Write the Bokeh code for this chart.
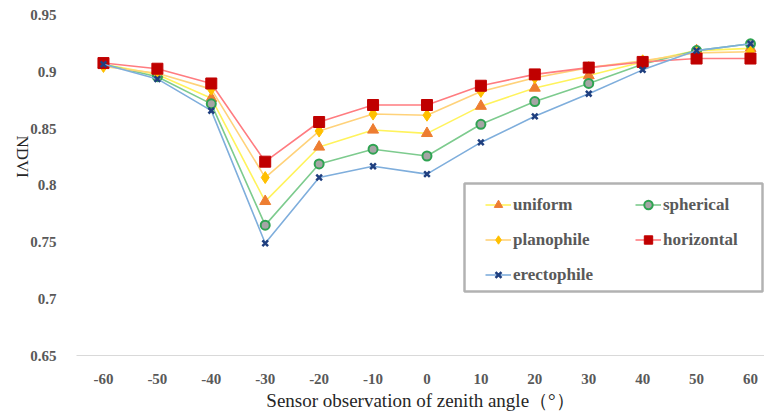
import math
from bokeh.plotting import figure
from bokeh.models import (ColumnDataSource, FixedTicker, NumeralTickFormatter,
                          Legend, LegendItem, Label, Range1d, BoxAnnotation)
from bokeh.embed import file_html
from bokeh.resources import INLINE

angles = [-60, -50, -40, -30, -20, -10, 0, 10, 20, 30, 40, 50, 60]
uniform = [0.907, 0.898, 0.877, 0.786, 0.834, 0.849, 0.846, 0.870, 0.886, 0.897, 0.909, 0.919, 0.921]
spherical = [0.907, 0.896, 0.872, 0.765, 0.819, 0.832, 0.826, 0.854, 0.874, 0.890, 0.907, 0.919, 0.925]
planophile = [0.905, 0.899, 0.885, 0.807, 0.848, 0.863, 0.862, 0.883, 0.895, 0.904, 0.910, 0.917, 0.918]
horizontal = [0.908, 0.903, 0.890, 0.821, 0.856, 0.871, 0.871, 0.888, 0.898, 0.904, 0.909, 0.912, 0.912]
erectophile = [0.907, 0.894, 0.866, 0.749, 0.807, 0.817, 0.810, 0.838, 0.861, 0.881, 0.902, 0.919, 0.925]
y_ticks = [0.65, 0.7, 0.75, 0.8, 0.85, 0.9, 0.95]

series_names = ["uniform", "spherical", "planophile", "horizontal", "erectophile"]
series_vals = [uniform, spherical, planophile, horizontal, erectophile]

styles = {
    "uniform": dict(line="#FFF35C", marker="triangle", fill="#ED7D31", edge="#ED7D31", size=11, lw=1),
    "spherical": dict(line="#7DCB8E", marker="circle", fill="#A5A5A5", edge="#2FA352", size=9, lw=2),
    "planophile": dict(line="#FFD27A", marker="diamond", fill="#FFC000", edge="#FFC000", size=12, lw=1),
    "horizontal": dict(line="#FF7C80", marker="square", fill="#C00000", edge="#C00000", size=11, lw=1),
    "erectophile": dict(line="#7FAEDC", marker="x", fill="#1F3F7F", edge="#1F3F7F", size=8, lw=2.5),
}

SERIF = "Liberation Serif"

p = figure(width=764, height=414, output_backend="svg", toolbar_location=None,
           x_range=Range1d(-65.0, 62.6), y_range=Range1d(0.65, 0.9632),
           min_border_left=76, min_border_right=0, min_border_top=0, min_border_bottom=59)
p.outline_line_color = None
p.xgrid.visible = False
p.ygrid.visible = False

items = {}
for name, vals in zip(series_names, series_vals):
    st = styles[name]
    src = ColumnDataSource(dict(x=angles, y=vals))
    r1 = p.line("x", "y", source=src, line_color=st["line"], line_width=1.6)
    r2 = p.scatter("x", "y", source=src, marker=st["marker"], size=st["size"],
                   fill_color=st["fill"], line_color=st["edge"], line_width=st["lw"])
    items[name] = LegendItem(label=name, renderers=[r1, r2])

# x axis
p.xaxis.ticker = FixedTicker(ticks=angles)
p.xaxis.formatter = NumeralTickFormatter(format="0")
p.xaxis.axis_line_color = "#D9D9D9"
p.xaxis.axis_line_width = 1
p.xaxis.major_tick_line_color = None
p.xaxis.minor_tick_line_color = None
p.xaxis.major_label_text_font = SERIF
p.xaxis.major_label_text_font_style = "bold"
p.xaxis.major_label_text_font_size = "15px"
p.xaxis.major_label_text_color = "#595959"
p.xaxis.major_label_standoff = 12
p.xaxis.axis_label = "Sensor observation of zenith angle（°）"
p.xaxis.axis_label_text_font = SERIF
p.xaxis.axis_label_text_font_style = "normal"
p.xaxis.axis_label_text_font_size = "19px"
p.xaxis.axis_label_text_color = "#262626"
p.xaxis.axis_label_standoff = 3

# y axis
p.yaxis.ticker = FixedTicker(ticks=y_ticks)
p.yaxis.formatter = NumeralTickFormatter(format="0.0[0]")
p.yaxis.axis_line_color = None
p.yaxis.major_tick_line_color = None
p.yaxis.minor_tick_line_color = None
p.yaxis.major_label_text_font = SERIF
p.yaxis.major_label_text_font_style = "bold"
p.yaxis.major_label_text_font_size = "15px"
p.yaxis.major_label_text_color = "#595959"
p.yaxis.major_label_standoff = 14

yax = p.yaxis[0]
if "axis_label_orientation" in yax.properties():
    yax.axis_label = "NDVI"
    yax.axis_label_orientation = -math.pi / 2
    yax.axis_label_text_font = SERIF
    yax.axis_label_text_font_style = "normal"
    yax.axis_label_text_font_size = "17px"
    yax.axis_label_text_color = "#262626"
    yax.axis_label_standoff = 5
else:
    ylab = Label(x=-61, y=170, x_units="screen", y_units="screen", text="NDVI",
                 angle=-math.pi / 2, text_font=SERIF, text_font_size="17px",
                 text_color="#262626", text_align="center", text_baseline="middle")
    p.add_layout(ylab)

# legend box
box = BoxAnnotation(left=388, right=686, top=172, bottom=64,
                    left_units="screen", right_units="screen",
                    top_units="screen", bottom_units="screen",
                    fill_color="white", fill_alpha=1,
                    line_color="black", line_width=2.5)
p.add_layout(box)

common = dict(orientation="vertical", border_line_color=None,
              background_fill_alpha=0,
              label_text_font=SERIF, label_text_font_style="bold",
              label_text_font_size="17px", label_text_color="#595959",
              glyph_width=26, glyph_height=21, label_standoff=2,
              spacing=14, padding=0, margin=0)
leg1 = Legend(items=[items["uniform"], items["planophile"], items["erectophile"]],
              location=(409, 70), **common)
leg2 = Legend(items=[items["spherical"], items["horizontal"]],
              location=(559, 105), **common)
p.add_layout(leg1)
p.add_layout(leg2)

open("out.html", "w").write(file_html(p, INLINE))
